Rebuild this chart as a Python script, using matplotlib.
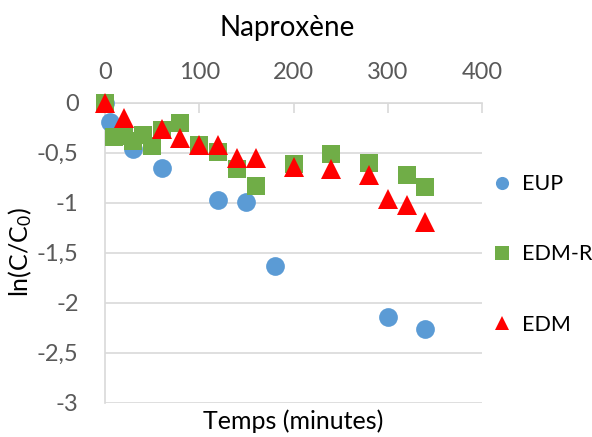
import numpy as np
import matplotlib
matplotlib.use("Agg")
import matplotlib.pyplot as plt

plt.rcParams['font.family'] = ['Lato', 'DejaVu Sans']
plt.rcParams['mathtext.fontset'] = 'custom'
plt.rcParams['mathtext.rm'] = 'Lato'
plt.rcParams['mathtext.it'] = 'Lato'

# data
t_eup = [0, 5, 30, 60, 120, 150, 180, 300, 340]
y_eup = [0, -0.19, -0.46, -0.65, -0.97, -0.99, -1.63, -2.14, -2.26]

t_edmr = [0, 10, 20, 30, 40, 50, 60, 80, 100, 120, 140, 160, 200, 240, 280, 320, 340]
y_edmr = [0, -0.34, -0.33, -0.38, -0.32, -0.43, -0.27, -0.20, -0.42, -0.49,
          -0.66, -0.83, -0.61, -0.51, -0.60, -0.72, -0.84]

t_edm = [0, 20, 60, 80, 100, 120, 140, 160, 200, 240, 280, 300, 320, 340]
y_edm = [0, -0.15, -0.26, -0.35, -0.42, -0.42, -0.55, -0.55, -0.64, -0.66,
         -0.72, -0.96, -1.02, -1.19]

xticks = [0, 100, 200, 300, 400]
yticks = [0, -0.5, -1, -1.5, -2, -2.5, -3]
ylabels = ['0', '-0,5', '-1', '-1,5', '-2', '-2,5', '-3']

grey = '#d9d9d9'
txt = '#595959'

fig = plt.figure(figsize=(5.92, 4.37), dpi=100)
ax = fig.add_axes([105/592, 1-402.7/437, 377/592, 300/437])

ax.plot(t_eup, y_eup, 'o', color='#5B9BD5', ms=13.5, mew=0, label='EUP', zorder=3, clip_on=False)
ax.plot(t_edmr, y_edmr, 's', color='#70AD47', ms=13.5, mew=0, label='EDM-R', zorder=4, clip_on=False)
ax.plot(t_edm, y_edm, '^', color='#FF0000', ms=14, mew=0, label='EDM', zorder=5, clip_on=False)

ax.set_xlim(0, 400)
ax.set_ylim(-3, 0)
ax.set_xticks(xticks)
ax.set_yticks(yticks)
ax.set_yticklabels(ylabels)
ax.xaxis.tick_top()
ax.tick_params(axis='x', direction='in', length=7, color=grey, width=1.2,
               labelsize=17, labelcolor=txt, pad=14)
ax.tick_params(axis='y', length=0, labelsize=17, labelcolor=txt, pad=19)
ax.grid(axis='y', color=grey, lw=1.2, zorder=0)
for s in ['right', 'bottom']:
    ax.spines[s].set_visible(False)
for s in ['top', 'left']:
    ax.spines[s].set_color(grey)
    ax.spines[s].set_linewidth(1.2)
ax.set_axisbelow(True)

fig.text(287/592, 1-28/437, 'Naproxène', ha='center', va='center', fontsize=20)
fig.text(293/592, 1-421/437, 'Temps (minutes)', ha='center', va='center', fontsize=18)
fig.text(20/592, 1-252/437, 'ln(C/C$_0$)', ha='center', va='center', fontsize=18, rotation=90)

leg = ax.legend(loc='upper left', bbox_to_anchor=(1.01, 0.79), frameon=False,
                fontsize=15.5, markerscale=0.7, labelspacing=2.33,
                handlelength=0.7, handletextpad=0.6, borderaxespad=0.0)
for t in leg.get_texts():
    t.set_color('black')

fig.savefig('out.png', dpi=100)
